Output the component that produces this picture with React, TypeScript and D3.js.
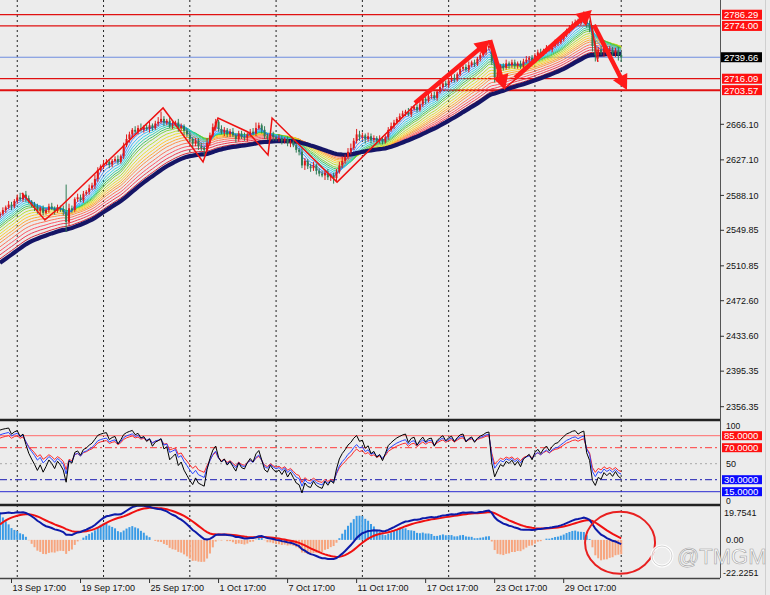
import React from "react";
import * as d3 from "d3";

const W = 770;
const H = 595;
const BG = "#ececec";

// ---- price data (XAUUSD H4) ----
const firstOpen = 2566;
const closes = [
  2568, 2572, 2575, 2578, 2576, 2582, 2586, 2584, 2589, 2585,
  2581, 2578, 2575, 2571, 2574, 2569, 2572, 2576, 2574, 2571,
  2575, 2573, 2570, 2559, 2574, 2572, 2584, 2586, 2583, 2590,
  2592, 2596, 2599, 2606, 2616, 2620, 2623, 2625, 2622, 2626,
  2628, 2625, 2631, 2643, 2650, 2655, 2660, 2658, 2662, 2660,
  2663, 2661, 2665, 2662, 2667, 2669, 2672, 2668, 2670, 2664,
  2666, 2668, 2662, 2664, 2659, 2655, 2650, 2645, 2648, 2642,
  2640, 2638, 2646, 2654, 2663, 2669, 2661, 2657, 2660, 2655,
  2658, 2654, 2650, 2656, 2652, 2651, 2655, 2658, 2656, 2662,
  2665, 2660, 2653, 2651, 2655, 2652, 2650, 2651, 2648, 2650,
  2645, 2647, 2643, 2638, 2636, 2621, 2626, 2620, 2618, 2621,
  2615, 2612, 2610, 2613, 2608, 2610, 2607, 2614, 2621, 2626,
  2630, 2636, 2640, 2648, 2655, 2652, 2654, 2650, 2653, 2649,
  2651, 2648, 2650, 2647, 2652, 2660, 2664, 2668, 2672, 2675,
  2678, 2680, 2677, 2683, 2685, 2682, 2688, 2694, 2692, 2697,
  2698, 2695, 2702, 2707, 2711, 2709, 2714, 2717, 2715, 2721,
  2727, 2729, 2726, 2731, 2734, 2732, 2738, 2742, 2745, 2750,
  2752, 2735, 2718, 2724, 2730, 2728, 2733, 2731, 2734, 2730,
  2733, 2729, 2735, 2737, 2739, 2736, 2742, 2745, 2743, 2747,
  2750, 2748, 2752, 2755, 2756, 2760, 2764, 2769, 2772, 2776,
  2778, 2777, 2781, 2784, 2776, 2772, 2752, 2742, 2748, 2745,
  2750, 2746, 2748, 2744, 2747, 2742, 2739.66,
];
const hiWick = [
  2, 3, 2, 4, 3, 2, 3, 5, 2, 4, 3, 2, 3, 4, 2, 3, 2, 3, 4, 2,
  3, 2, 4, 30, 5, 3, 2, 4, 3, 3, 2, 4, 3, 5, 3, 2, 4, 3, 3, 2,
  3, 4, 2, 3, 5, 3, 2, 4, 3, 5, 2, 3, 4, 2, 3, 5, 8, 3, 2, 4,
  3, 2, 4, 3, 2, 3, 4, 2, 3, 3, 4, 2, 5, 3, 4, 3, 2, 4, 3, 2,
  3, 4, 2, 3, 3, 5, 2, 3, 4, 6, 3, 2, 4, 3, 2, 3, 2, 4, 3, 2,
  3, 2, 4, 3, 2, 4, 3, 2, 3, 4, 2, 3, 3, 2, 4, 2, 3, 3, 4, 5,
  3, 4, 5, 3, 6, 4, 3, 2, 4, 3, 3, 2, 4, 3, 2, 3, 4, 3, 2, 3,
  3, 2, 4, 3, 2, 3, 4, 3, 2, 3, 3, 4, 2, 3, 4, 3, 2, 3, 4, 2,
  3, 2, 3, 4, 2, 3, 2, 3, 4, 3, 6, 4, 5, 3, 2, 3, 4, 2, 3, 3,
  2, 3, 3, 4, 2, 3, 2, 3, 4, 2, 3, 3, 2, 4, 3, 2, 3, 2, 3, 3,
  3, 4, 3, 6, 5, 4, 3, 6, 3, 4, 3, 2, 4, 3, 3, 4, 3,
];
const loWick = [
  3, 2, 3, 2, 4, 2, 3, 2, 3, 4, 2, 3, 4, 3, 5, 3, 2, 3, 2, 4,
  2, 3, 4, 11, 4, 3, 2, 3, 2, 3, 2, 3, 2, 4, 3, 2, 3, 2, 4, 3,
  2, 3, 2, 3, 2, 4, 3, 2, 3, 2, 3, 2, 4, 3, 2, 3, 2, 4, 3, 2,
  3, 2, 4, 3, 5, 3, 4, 5, 3, 4, 3, 6, 2, 3, 2, 4, 3, 2, 4, 3,
  3, 2, 4, 3, 2, 3, 4, 3, 2, 3, 2, 4, 3, 2, 3, 4, 2, 3, 4, 3,
  3, 4, 2, 3, 4, 3, 5, 3, 4, 3, 4, 3, 2, 5, 3, 4, 6, 3, 2, 3,
  3, 2, 3, 2, 3, 4, 3, 5, 3, 4, 3, 4, 3, 3, 2, 3, 2, 3, 2, 3,
  2, 3, 2, 3, 2, 3, 2, 3, 4, 2, 3, 2, 3, 2, 3, 2, 3, 2, 3, 2,
  2, 3, 2, 3, 2, 3, 2, 3, 2, 3, 3, 4, 6, 3, 4, 3, 2, 4, 3, 3,
  3, 2, 4, 2, 3, 2, 3, 2, 3, 2, 3, 2, 3, 2, 3, 2, 3, 2, 3, 2,
  2, 3, 2, 3, 4, 5, 6, 7, 4, 3, 5, 3, 4, 3, 4, 6, 5,
];

// ---- indicator settings ----
const emaPeriods = [3, 5, 7, 9, 11, 13, 15, 18, 21, 24, 27, 30, 34, 38, 42, 46];
const emaColors = [
  "#3b5cff", "#3a8cff", "#2fb0ff", "#1fd0e8", "#22d0a8", "#2fc058",
  "#6fd030", "#b2dc1e", "#e6dc1e", "#ffc61e", "#ffa41e", "#ff8438",
  "#ff6448", "#ff4658", "#ee2842", "#d41224",
];
const slowPeriod = 50;
const priorSlope = 2.2; // trend before the first bar, used to seed averages
const rsiPeriods = [7, 11, 14];
const rsiColors = ["#000000", "#2a46ff", "#ff2a2a"];
const rsiStart = [92, 86, 82];
const macdFast = 12;
const macdSlow = 26;
const macdSignalPeriod = 9;
const macdSignalStart = 9;
const histScale = 2.5;

// ---- axes ----
const priceTicks = [2666.1, 2627.1, 2588.1, 2549.85, 2510.85, 2472.6, 2433.6, 2395.35, 2356.35];
const levelPrices = [2786.29, 2774.0, 2716.09, 2703.57];
const levelLabels = ["2786.29", "2774.00", "2716.09", "2703.57"];
const bidPrice = 2739.66;
const timeLabels = [
  "13 Sep 17:00", "19 Sep 17:00", "25 Sep 17:00", "1 Oct 17:00", "7 Oct 17:00",
  "11 Oct 17:00", "17 Oct 17:00", "23 Oct 17:00", "29 Oct 17:00",
];
const timeLabelBars = [4, 28, 52, 76, 100, 124, 148, 172, 196];
const separatorBars = [6, 36, 66, 96, 126, 156, 186, 216];
const oscLevels = [85, 70, 50, 30, 15];

// ---- hand-drawn annotations (bar index, price) ----
const zigzag: [number, number][] = [
  [7.6, 2590.8], [15.6, 2561.2], [20.9, 2575.4], [56.7, 2684], [70.6, 2624.8],
  [75.8, 2673], [86.2, 2657.7], [93.2, 2632.4], [94.6, 2673], [117.2, 2602.7], [148.8, 2701.5],
];
const thinSegs: [number, number][][] = [
  [[175.6, 2705.9], [181.5, 2721.3]],
  [[204.8, 2789.3], [207.9, 2734.5]],
];
const arrows: [number, number][][] = [
  [[144.3, 2689.5], [170.4, 2758.5]],
  [[170.4, 2758.5], [175.6, 2703.7]],
  [[179.1, 2716.9], [205.8, 2791.5]],
  [[206.5, 2775], [218, 2703.7]],
];
const circleCenter: [number, number] = [215.6, -1.7];

function ema(src: number[], n: number, seed: number) {
  const k = 2 / (n + 1);
  let v = seed;
  return src.map((c, i) => (i === 0 ? v : (v = v + k * (c - v))));
}
function rsi(src: number[], n: number, start: number) {
  let g = (4 * start) / 100;
  let l = 4 - g;
  return src.map((c, i) => {
    if (i === 0) return start;
    const ch = c - src[i - 1];
    g = (g * (n - 1) + Math.max(ch, 0)) / n;
    l = (l * (n - 1) + Math.max(-ch, 0)) / n;
    return (100 * g) / (g + l);
  });
}

const FONT = "'Liberation Sans', Arial, sans-serif";

function arrowHead(x1: number, y1: number, x2: number, y2: number) {
  const a = Math.atan2(y2 - y1, x2 - x1);
  const len = 15, wid = 8;
  const bx = x2 - len * Math.cos(a), by = y2 - len * Math.sin(a);
  const px = -Math.sin(a) * wid, py = Math.cos(a) * wid;
  return `M${x2},${y2}L${bx + px},${by + py}L${bx - px},${by - py}Z`;
}

export default function App() {
  const opens = closes.map((c, i) => (i === 0 ? firstOpen : closes[i - 1]));
  const highs = closes.map((c, i) => Math.max(opens[i], c) + (hiWick[i] ?? 3));
  const lows = closes.map((c, i) => Math.min(opens[i], c) - (loWick[i] ?? 3));

  const plotR = 720;
  const x = d3.scaleLinear().domain([0, 250.35]).range([0, plotR]);
  const y = d3.scaleLinear().domain([2356.35, 2666.1]).range([406.7, 124.3]);
  const yo = d3.scaleLinear().domain([0, 100]).range([503.7, 423.7]);
  const ym = d3.scaleLinear().domain([-22.2251, 19.7541]).range([578, 506]);

  const c0 = closes[0];
  const emas = emaPeriods.map((p) => ema(closes, p, c0 - (priorSlope * (p - 1)) / 2));
  const slow = ema(closes, slowPeriod, c0 - (priorSlope * (slowPeriod - 1)) / 2);
  const ef = ema(closes, macdFast, c0 - (priorSlope * (macdFast - 1)) / 2);
  const es = ema(closes, macdSlow, c0 - (priorSlope * (macdSlow - 1)) / 2);
  const macd = ef.map((v, i) => v - es[i]);
  const signal = ema(macd, macdSignalPeriod, macdSignalStart);
  const hist = macd.map((v, i) => (v - signal[i]) * histScale);
  const rsis = rsiPeriods.map((p, k) => rsi(closes, p, rsiStart[k]));

  const lineMain = (arr: number[]) =>
    d3.line<number>().x((_, i) => x(i)).y((v) => y(v))(arr) || "";
  const lineOsc = (arr: number[]) =>
    d3.line<number>().x((_, i) => x(i)).y((v) => yo(v))(arr) || "";
  const lineMacd = (arr: number[]) =>
    d3.line<number>().x((_, i) => x(i)).y((v) => ym(v))(arr) || "";
  const pts = (arr: [number, number][]) =>
    d3.line<[number, number]>().x((d) => x(d[0])).y((d) => y(d[1]))(arr) || "";

  const candleUp = "#e01818";
  const candleDn = "#2f7d55";

  return (
    <div style={{ position: "fixed", left: 0, top: 0, width: W, height: H, background: BG }}>
      <svg width={W} height={H} style={{ display: "block", fontFamily: FONT }}>
        <defs>
          <clipPath id="cMain"><rect x={0} y={0} width={plotR} height={420} /></clipPath>
          <clipPath id="cOsc"><rect x={0} y={421} width={plotR} height={83} /></clipPath>
          <clipPath id="cMacd"><rect x={0} y={506} width={plotR} height={72} /></clipPath>
        </defs>
        <rect x={0} y={0} width={W} height={H} fill={BG} />

        {/* period separators */}
        {separatorBars.map((b) => (
          <line key={b} x1={x(b)} x2={x(b)} y1={0} y2={578} stroke="#222" strokeWidth={1} strokeDasharray="2,3" />
        ))}

        {/* ===== main panel ===== */}
        <g clipPath="url(#cMain)">
          <line x1={0} x2={plotR} y1={y(bidPrice)} y2={y(bidPrice)} stroke="#6f8ee0" strokeWidth={1} />
          {levelPrices.map((p, k) => (
            <line key={k} x1={0} x2={plotR} y1={y(p)} y2={y(p)} stroke="#e01010" strokeWidth={k === 3 ? 2 : 1.2} />
          ))}
          {emas.slice().reverse().map((e, k) => (
            <path key={k} d={lineMain(e)} fill="none" stroke={emaColors[emaColors.length - 1 - k]} strokeWidth={0.9} />
          ))}
          <path d={lineMain(slow)} fill="none" stroke="#151566" strokeWidth={4.2} />
          {closes.map((c, i) => {
            const up = c >= opens[i];
            const col = up ? candleUp : candleDn;
            const top = y(Math.max(c, opens[i]));
            const bot = y(Math.min(c, opens[i]));
            return (
              <g key={i}>
                <line x1={x(i)} x2={x(i)} y1={y(highs[i])} y2={y(lows[i])} stroke={col} strokeWidth={1} />
                <rect x={x(i) - 1} y={top} width={2} height={Math.max(bot - top, 0.8)} fill={col} />
              </g>
            );
          })}
          <path d={pts(zigzag)} fill="none" stroke="#ee1111" strokeWidth={1.5} />
          {thinSegs.map((s, k) => (
            <path key={k} d={pts(s)} fill="none" stroke="#ee1111" strokeWidth={1.5} />
          ))}
          {arrows.map((a, k) => {
            const x1 = x(a[0][0]), y1 = y(a[0][1]), x2 = x(a[1][0]), y2 = y(a[1][1]);
            const ang = Math.atan2(y2 - y1, x2 - x1);
            return (
              <g key={k}>
                <line x1={x1} y1={y1} x2={x2 - 12 * Math.cos(ang)} y2={y2 - 12 * Math.sin(ang)} stroke="#ff1a1a" strokeWidth={4.5} />
                <path d={arrowHead(x1, y1, x2, y2)} fill="#ff1a1a" />
              </g>
            );
          })}
        </g>

        {/* ===== oscillator panel ===== */}
        <g clipPath="url(#cOsc)">
          <line x1={0} x2={plotR} y1={yo(85)} y2={yo(85)} stroke="#ff6a6a" strokeWidth={1} />
          <line x1={0} x2={plotR} y1={yo(70)} y2={yo(70)} stroke="#ff3a3a" strokeWidth={1} strokeDasharray="7,3,2,3" />
          <line x1={0} x2={plotR} y1={yo(50)} y2={yo(50)} stroke="#a8a8a8" strokeWidth={1} strokeDasharray="2,3" />
          <line x1={0} x2={plotR} y1={yo(30)} y2={yo(30)} stroke="#1a1ab0" strokeWidth={1} strokeDasharray="7,3,2,3" />
          <line x1={0} x2={plotR} y1={yo(15)} y2={yo(15)} stroke="#2a2ad0" strokeWidth={1} />
          {[2, 1, 0].map((k) => (
            <path key={k} d={lineOsc(rsis[k])} fill="none" stroke={rsiColors[k]} strokeWidth={1} />
          ))}
        </g>

        {/* ===== MACD panel ===== */}
        <g clipPath="url(#cMacd)">
          {hist.map((h, i) => (
            <rect key={i} x={x(i) - 1} y={Math.min(ym(h), ym(0))} width={2} height={Math.abs(ym(h) - ym(0))}
              fill={h >= 0 ? "#3a9be6" : "#f7a57e"} />
          ))}
          <path d={lineMacd(signal)} fill="none" stroke="#f01010" strokeWidth={2} />
          <path d={lineMacd(macd)} fill="none" stroke="#0c1aa8" strokeWidth={2} />
        </g>
        <ellipse cx={x(circleCenter[0])} cy={ym(circleCenter[1])} rx={35} ry={31} fill="none" stroke="#e82020" strokeWidth={2} />

        {/* panel frames */}
        <line x1={plotR + 0.5} x2={plotR + 0.5} y1={0} y2={578} stroke="#555" strokeWidth={1} />
        <line x1={0} x2={plotR} y1={420} y2={420} stroke="#222" strokeWidth={2.5} />
        <line x1={0} x2={plotR} y1={505} y2={505} stroke="#222" strokeWidth={2.5} />
        <line x1={0} x2={plotR} y1={578.5} y2={578.5} stroke="#444" strokeWidth={1.5} />
        <line x1={765.5} x2={765.5} y1={0} y2={595} stroke="#cfcfcf" strokeWidth={1} />

        {/* price axis */}
        {priceTicks.map((p) => (
          <g key={p}>
            <line x1={plotR} x2={plotR + 4} y1={y(p)} y2={y(p)} stroke="#333" />
            <text x={726} y={y(p) + 3.2} fontSize={9} fill="#111">{p.toFixed(2)}</text>
          </g>
        ))}
        {levelPrices.map((p, k) => (
          <g key={k}>
            <rect x={722} y={y(p) - 5} width={40} height={10} fill="#ff1010" />
            <text x={724} y={y(p) + 3.5} fontSize={9.5} fill="#fff">{levelLabels[k]}</text>
          </g>
        ))}
        <rect x={721} y={y(bidPrice) - 5} width={41} height={10} fill="#000" />
        <text x={724} y={y(bidPrice) + 3.5} fontSize={9.5} fill="#fff">{bidPrice.toFixed(2)}</text>

        {/* oscillator axis */}
        <text x={726} y={429} fontSize={8.5} fill="#111">100</text>
        <text x={726} y={yo(50) + 3.2} fontSize={9} fill="#111">50</text>
        <text x={726} y={503.5} fontSize={8.5} fill="#111">0</text>
        {oscLevels.filter((v) => v !== 50).map((v) => (
          <g key={v}>
            <rect x={722} y={yo(v) - 4.5} width={40} height={9} fill={v > 50 ? "#ff1010" : "#0a0aff"} />
            <text x={724} y={yo(v) + 3.3} fontSize={9.5} fill="#fff">{v.toFixed(4)}</text>
          </g>
        ))}

        {/* MACD axis */}
        <text x={724} y={515.5} fontSize={9} fill="#111">19.7541</text>
        <text x={726} y={ym(0) + 3.5} fontSize={9} fill="#111">0.00</text>
        <text x={723} y={575.5} fontSize={9} fill="#111">-22.2251</text>

        {/* time axis */}
        {timeLabelBars.map((b, k) => (
          <g key={b}>
            <line x1={x(b)} x2={x(b)} y1={579} y2={583} stroke="#333" />
            <text x={x(b) + 1} y={590.5} fontSize={9} fill="#111">{timeLabels[k]}</text>
          </g>
        ))}

        {/* watermark */}
        <g opacity={0.92}>
          <circle cx={662} cy={556} r={10} fill="none" stroke="#ffffff" strokeWidth={3} />
          <circle cx={662} cy={556} r={10} fill="none" stroke="#b5b5b5" strokeWidth={0.6} />
          <text x={677} y={564} fontSize={22} fill="#ffffff" stroke="#9a9a9a" strokeWidth={0.6} fontFamily={FONT}>@TMGM</text>
        </g>
      </svg>
    </div>
  );
}
